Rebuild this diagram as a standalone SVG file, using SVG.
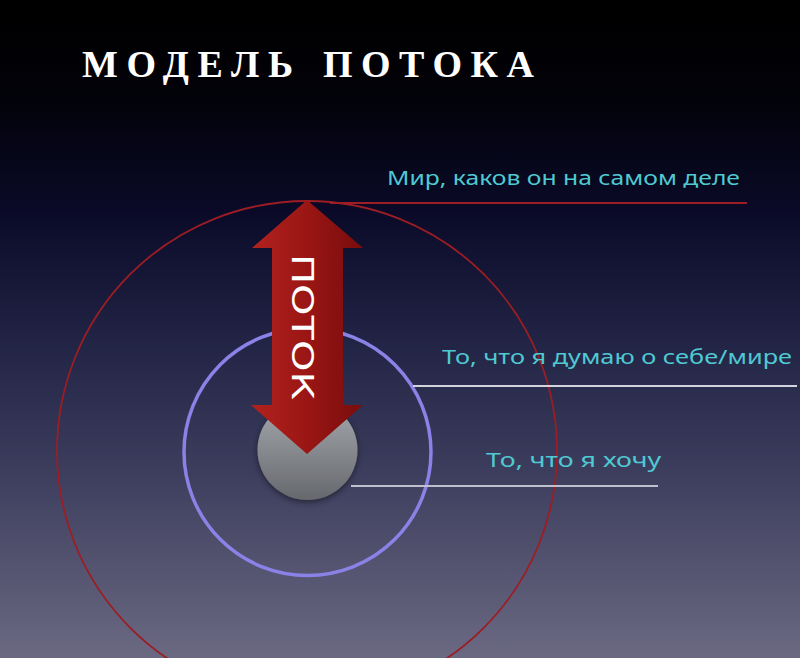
<svg xmlns="http://www.w3.org/2000/svg" width="800" height="658" viewBox="0 0 800 658">
  <defs>
    <linearGradient id="bg" x1="0" y1="0" x2="0" y2="1">
      <stop offset="0" stop-color="#000000"/>
      <stop offset="0.15" stop-color="#020209"/>
      <stop offset="0.32" stop-color="#0a0a28"/>
      <stop offset="0.52" stop-color="#222445"/>
      <stop offset="0.72" stop-color="#3d3e5e"/>
      <stop offset="1" stop-color="#6b6982"/>
    </linearGradient>
    <linearGradient id="core" x1="0" y1="0" x2="0" y2="1">
      <stop offset="0" stop-color="#a6aaae"/>
      <stop offset="1" stop-color="#66686d"/>
    </linearGradient>
    <linearGradient id="arrowFill" x1="0" y1="0" x2="1" y2="0">
      <stop offset="0" stop-color="#b3221e"/>
      <stop offset="0.5" stop-color="#9a1614"/>
      <stop offset="1" stop-color="#780d0d"/>
    </linearGradient>
    <filter id="shadow" x="-30%" y="-30%" width="160%" height="160%">
      <feDropShadow dx="0" dy="2" stdDeviation="3" flood-color="#000" flood-opacity="0.5"/>
    </filter>
    <style>
      .title { font-family: "Liberation Serif", "DejaVu Serif", serif; font-weight: bold; font-size: 38px; fill: #ffffff; }
      .label { font-family: "Noto Sans", "DejaVu Sans", sans-serif; font-size: 20px; fill: #4fc9d2; }
      .flow { font-family: "DejaVu Sans", "Noto Sans", sans-serif; font-size: 31px; fill: #ffffff; }
      .ring-outer { fill: none; stroke: #9c1d24; stroke-width: 1.8; }
      .ring-inner { fill: none; stroke: #8a82e6; stroke-width: 3.5; }
      .lead { fill: none; stroke-width: 2.2; }
    </style>
  </defs>

  <rect x="0" y="0" width="800" height="658" fill="url(#bg)"/>

  <g id="title">
    <text class="title" x="82" y="77" textLength="211" lengthAdjust="spacing">МОДЕЛЬ</text>
    <text class="title" x="323" y="77" textLength="211" lengthAdjust="spacing">ПОТОКА</text>
  </g>

  <g id="world">
    <circle class="ring-outer" cx="307" cy="451" r="250"/>
  </g>

  <g id="beliefs">
    <circle class="ring-inner" cx="307.5" cy="452" r="123.5"/>
  </g>

  <g id="wants">
    <circle cx="307.5" cy="450" r="50" fill="url(#core)" filter="url(#shadow)"/>
  </g>

  <g id="flow">
    <polygon points="307,200 363,248 343,248 343,405 363,405 307,454 251,405 272,405 272,248 252,248" fill="url(#arrowFill)"/>
    <text class="flow" transform="translate(292,254) rotate(90)" x="0" y="0" textLength="146" lengthAdjust="spacingAndGlyphs">ПОТОК</text>
  </g>

  <g id="connectors">
    <line class="lead" x1="330" y1="203" x2="747" y2="203" stroke="#9c1d24"/>
    <line class="lead" x1="413" y1="386" x2="797" y2="386" stroke="#d4d4de"/>
    <line class="lead" x1="351" y1="486" x2="658" y2="486" stroke="#c0c0cc"/>
  </g>

  <g id="labels">
    <text class="label" x="387" y="185" textLength="353" lengthAdjust="spacingAndGlyphs">Мир, каков он на самом деле</text>
    <text class="label" x="442" y="364" textLength="350" lengthAdjust="spacingAndGlyphs">То, что я думаю о себе/мире</text>
    <text class="label" x="486" y="467" textLength="175" lengthAdjust="spacingAndGlyphs">То, что я хочу</text>
  </g>
</svg>
